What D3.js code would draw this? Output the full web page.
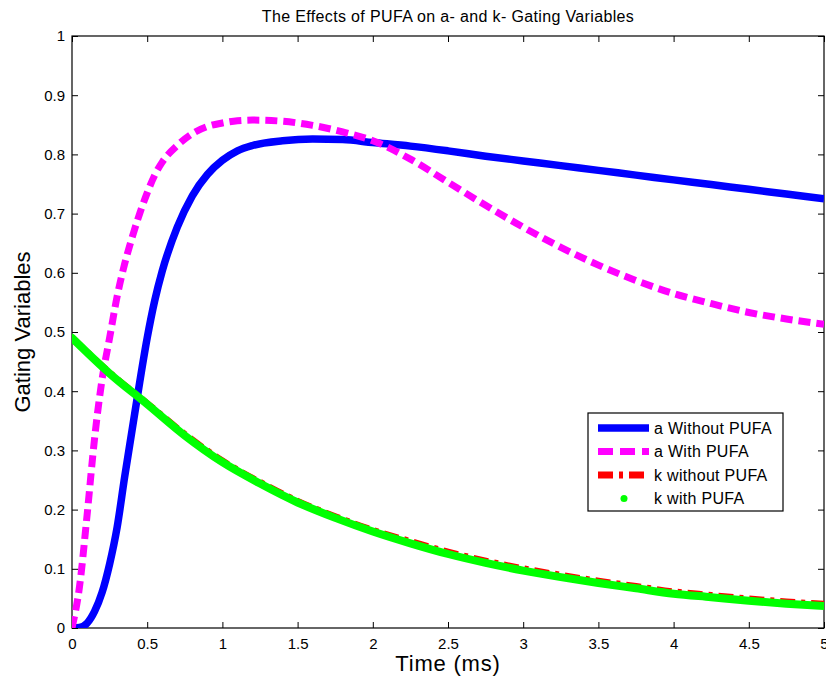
<!DOCTYPE html>
<html>
<head>
<meta charset="utf-8">
<script src="https://cdn.jsdelivr.net/npm/d3@7"></script>
<style>
  body { margin: 0; background: #fff; }
  svg { display: block; font-family: "Liberation Sans", Arial, sans-serif; }
</style>
</head>
<body>
<svg id="chart"></svg>
<script>
(() => {
// time grid for the a- gating curves (ms)
let timeA = [0, 0.05, 0.1, 0.15, 0.2, 0.25, 0.3, 0.35, 0.4, 0.45, 0.5, 0.55, 0.6, 0.7, 0.8, 0.9,
  1.0, 1.1, 1.2, 1.4, 1.6, 1.8, 2.0, 2.25, 2.5, 2.75, 3.0, 3.25, 3.5, 3.75, 4.0, 4.25, 4.5, 4.75, 5.0];
let aWithout = [0, 0.001, 0.008, 0.028, 0.06, 0.108, 0.17, 0.255, 0.335, 0.415, 0.49, 0.553, 0.603, 0.677, 0.73, 0.766,
  0.79, 0.806, 0.815, 0.823, 0.826, 0.825, 0.82, 0.814, 0.806, 0.797, 0.789, 0.781, 0.773, 0.765, 0.757, 0.749, 0.741, 0.733, 0.725];
let aWith = [0, 0.07, 0.19, 0.32, 0.42, 0.49, 0.56, 0.615, 0.66, 0.70, 0.735, 0.765, 0.787, 0.815, 0.835, 0.847,
  0.853, 0.857, 0.858, 0.856, 0.849, 0.838, 0.823, 0.792, 0.753, 0.714, 0.677, 0.643, 0.613, 0.587, 0.565, 0.548, 0.533, 0.522, 0.513];

// time grid for the k- gating curves (ms)
let timeK = [0, 0.25, 0.5, 0.75, 1.0, 1.25, 1.5, 1.75, 2.0, 2.25, 2.5, 2.75, 3.0, 3.25, 3.5, 3.75, 4.0, 4.25, 4.5, 4.75, 5.0];
let kWithout = [0.49, 0.431, 0.379, 0.327, 0.282, 0.246, 0.214, 0.188, 0.165, 0.146, 0.128, 0.113, 0.1, 0.089, 0.079, 0.07, 0.061, 0.055, 0.049, 0.044, 0.04];
let kWith = [0.49, 0.43, 0.378, 0.325, 0.28, 0.244, 0.212, 0.186, 0.163, 0.143, 0.125, 0.11, 0.097, 0.086, 0.076, 0.067, 0.058, 0.052, 0.046, 0.041, 0.037];

let xTicks = [0, 0.5, 1, 1.5, 2, 2.5, 3, 3.5, 4, 4.5, 5];
let yTicks = [0, 0.1, 0.2, 0.3, 0.4, 0.5, 0.6, 0.7, 0.8, 0.9, 1];
let seriesNames = ['a Without PUFA', 'a With PUFA', 'k without PUFA', 'k with PUFA'];

let width = 826, height = 683,
    left = 72, right = 824, top = 36, bottom = 628;

let svg = d3.select('#chart')
    .attr('width', width)
    .attr('height', height);

let x = d3.scaleLinear().domain([0, 5]).range([left, right]);
let y = d3.scaleLinear().domain([0, 1]).range([bottom, top]);

svg.append('defs').append('clipPath')
    .attr('id', 'plotclip')
    .append('rect')
    .attr('x', left).attr('y', top)
    .attr('width', right - left).attr('height', bottom - top);

// axes with inward ticks on all four sides
let styleAxis = g => {
  g.select('.domain').remove();
  g.selectAll('.tick line').attr('stroke', '#000');
  g.selectAll('.tick text').attr('fill', '#000').attr('font-size', 15);
};

svg.append('g')
    .attr('transform', `translate(0,${bottom})`)
    .call(d3.axisBottom(x).tickValues(xTicks).tickFormat(d => String(d)).tickSizeInner(-6).tickSizeOuter(0).tickPadding(10))
    .call(styleAxis);
svg.append('g')
    .attr('transform', `translate(0,${top})`)
    .call(d3.axisTop(x).tickValues(xTicks).tickFormat('').tickSizeInner(-6).tickSizeOuter(0))
    .call(styleAxis);
svg.append('g')
    .attr('transform', `translate(${left},0)`)
    .call(d3.axisLeft(y).tickValues(yTicks).tickFormat(d => String(d)).tickSizeInner(-6).tickSizeOuter(0).tickPadding(7))
    .call(styleAxis);
svg.append('g')
    .attr('transform', `translate(${right},0)`)
    .call(d3.axisRight(y).tickValues(yTicks).tickFormat('').tickSizeInner(-6).tickSizeOuter(0))
    .call(styleAxis);

svg.append('rect')
    .attr('x', left).attr('y', top)
    .attr('width', right - left).attr('height', bottom - top)
    .attr('fill', 'none').attr('stroke', '#000').attr('stroke-width', 1.2);

let series = [
  { t: timeA, v: aWithout, color: '#0000ff', width: 7.5, dash: null, cap: 'butt' },
  { t: timeA, v: aWith, color: '#ff00ff', width: 7, dash: '12,6', cap: 'butt' },
  { t: timeK, v: kWithout, color: '#ff0000', width: 7, dash: '15,6,4,6', cap: 'butt' },
  { t: timeK, v: kWith, color: '#00ff00', width: 8, dash: null, cap: 'round' }
];

let line = d3.line()
    .x(d => x(d[0]))
    .y(d => y(d[1]))
    .curve(d3.curveMonotoneX);

let plot = svg.append('g').attr('clip-path', 'url(#plotclip)');
series.forEach(s => {
  plot.append('path')
      .datum(s.t.map((t, i) => [t, s.v[i]]))
      .attr('d', line)
      .attr('fill', 'none')
      .attr('stroke', s.color)
      .attr('stroke-width', s.width)
      .attr('stroke-dasharray', s.dash)
      .attr('stroke-linecap', s.cap)
      .attr('stroke-linejoin', 'round');
});

// legend
let legend = svg.append('g');
legend.append('rect')
    .attr('x', 588).attr('y', 413)
    .attr('width', 195).attr('height', 98)
    .attr('fill', '#fff').attr('stroke', '#000').attr('stroke-width', 1.2);

seriesNames.forEach((name, i) => {
  let s = series[i];
  let ry = 428 + i * 23.5;
  if (i < 3) {
    legend.append('line')
        .attr('x1', 598).attr('x2', 649)
        .attr('y1', ry).attr('y2', ry)
        .attr('stroke', s.color)
        .attr('stroke-width', s.width)
        .attr('stroke-dasharray', i === 1 ? '15,7' : s.dash);
  } else {
    legend.append('circle')
        .attr('cx', 624).attr('cy', ry)
        .attr('r', 3.5)
        .attr('fill', s.color);
  }
  legend.append('text')
      .attr('x', 654).attr('y', ry)
      .attr('dy', '0.35em')
      .attr('font-size', 16)
      .attr('letter-spacing', 0.3)
      .text(name);
});

svg.append('text')
    .attr('x', (left + right) / 2).attr('y', 22)
    .attr('text-anchor', 'middle')
    .attr('font-size', 16)
    .attr('letter-spacing', 0.35)
    .text('The Effects of PUFA on a- and k- Gating Variables');

svg.append('text')
    .attr('x', (left + right) / 2).attr('y', 671)
    .attr('text-anchor', 'middle')
    .attr('font-size', 22)
    .attr('letter-spacing', 0.8)
    .text('Time (ms)');

svg.append('text')
    .attr('transform', `translate(30,${(top + bottom) / 2}) rotate(-90)`)
    .attr('text-anchor', 'middle')
    .attr('font-size', 22)
    .text('Gating Variables');
})();
</script>
</body>
</html>
